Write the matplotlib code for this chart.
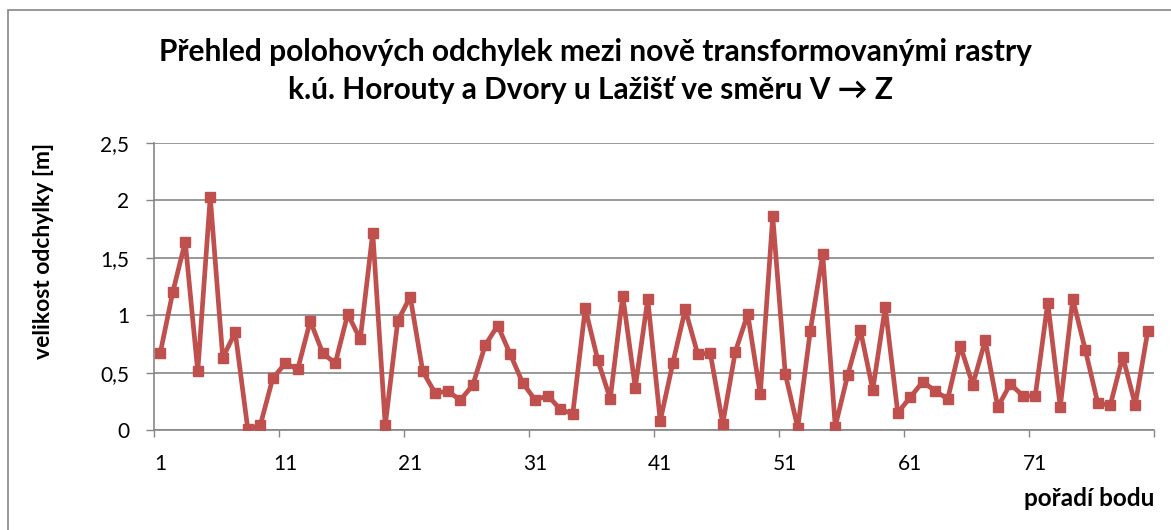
import matplotlib.pyplot as plt
from matplotlib.patches import Rectangle

plt.rcParams['font.family'] = ['Lato', 'DejaVu Sans']

# velikost odchylky [m] pro body 1..80
poradi = list(range(1, 81))
odchylky = [
    0.67, 1.20, 1.64, 0.51, 2.03, 0.63, 0.85, 0.01, 0.04, 0.45,
    0.58, 0.53, 0.95, 0.67, 0.58, 1.01, 0.79, 1.72, 0.04, 0.95,
    1.16, 0.51, 0.32, 0.34, 0.26, 0.39, 0.74, 0.91, 0.66, 0.41,
    0.26, 0.30, 0.18, 0.14, 1.06, 0.61, 0.27, 1.17, 0.37, 1.14,
    0.08, 0.58, 1.05, 0.66, 0.67, 0.055, 0.68, 1.01, 0.31, 1.86,
    0.49, 0.02, 0.86, 1.53, 0.03, 0.48, 0.875, 0.35, 1.07, 0.15,
    0.285, 0.42, 0.34, 0.27, 0.735, 0.395, 0.78, 0.20, 0.40, 0.30,
    0.294, 1.11, 0.20, 1.14, 0.70, 0.235, 0.215, 0.64, 0.22, 0.86,
]
x_popisky = [1, 11, 21, 31, 41, 51, 61, 71]
y_hodnoty = [0, 0.5, 1, 1.5, 2, 2.5]
y_popisky = ['0', '0,5', '1', '1,5', '2', '2,5']

seda = '#868686'
cervena = '#C0504D'

fig = plt.figure(figsize=(11.71, 5.30), dpi=100)
ax = fig.add_axes([154/1171, 1 - 430/530, 1000/1171, 287/530])

# ramecek grafu (vpravo a dole orizly)
fig.patches.append(Rectangle((8/1171, -0.1), 1.2, 1 - 10/530 + 0.1,
                             transform=fig.transFigure, fill=False,
                             edgecolor=seda, linewidth=1.2))

ax.plot(poradi, odchylky, color=cervena, linewidth=3.4, marker='s',
        markersize=7.5, markeredgecolor=cervena, zorder=3)

ax.set_xlim(0.5, 80.5)
ax.set_ylim(0, 2.5)
ax.set_yticks(y_hodnoty)
ax.set_yticklabels(y_popisky)
ax.set_xticks(x_popisky)
ax.set_xticks([0.5 + 10 * i for i in range(9)], minor=True)
ax.tick_params(axis='x', which='major', length=0, pad=17, labelsize=15)
ax.tick_params(axis='x', which='minor', length=5, width=1, color=seda,
               direction='out')
ax.tick_params(axis='y', length=6, width=1, color=seda, pad=12,
               labelsize=15, direction='out')

ax.grid(axis='y', color=seda, linewidth=1.2)
ax.set_axisbelow(True)
for s in ['top', 'right']:
    ax.spines[s].set_visible(False)
for s in ['left', 'bottom']:
    ax.spines[s].set_color(seda)
    ax.spines[s].set_linewidth(1.2)

fig.text(595/1171, 1 - 52/530,
         'Přehled polohových odchylek mezi nově transformovanými rastry',
         ha='center', va='center', fontsize=21.5, fontweight='bold')
fig.text(590/1171, 1 - 90/530,
         'k.ú. Horouty a Dvory u Lažišť ve směru V → Z',
         ha='center', va='center', fontsize=21.5, fontweight='bold')
fig.text(44/1171, 1 - 251/530, 'velikost odchylky [m]', rotation=90,
         ha='center', va='center', fontsize=16.5, fontweight='bold')
fig.text(1154/1171, 1 - 499/530, 'pořadí bodu', ha='right', va='center',
         fontsize=17.5, fontweight='bold')

fig.savefig('out.png', dpi=100)
